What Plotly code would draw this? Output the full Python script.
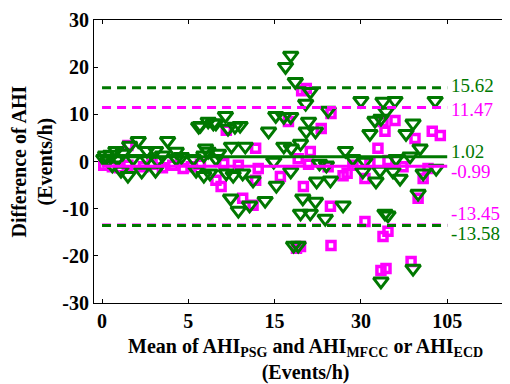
import numpy as np
import plotly.graph_objects as go

# mean of AHI (Events/h) and difference of AHI
psg_ecd_mean = [0.2, 0.8, 1.6, 2.1, 2.6, 3.1, 3.8, 4.3, 4.6, 0.6, 1.1, 1.5, 2.3, 3.1, 2.6, 4.3,
                0.1, 0.35, 0.5, 0.9, 1.2, 1.8, 3.2, 3.5,
                5.6, 6.8, 5.9, 6.8, 6.2, 6.4, 7.9, 9.3, 10.4, 11.0, 7.3, 8.2, 9.6, 7.0, 10.0, 11.6,
                8.2, 7.3, 8.5, 14.3, 14.9, 7.5, 9.4, 10.2, 11.3, 12.5, 9.9, 10.8, 12.1, 13.9,
                15.3, 17.8, 18.3, 16.6, 17.8, 15.2, 16.6, 17.9, 17.8, 16.9, 18.6, 21.2, 20.4, 24.3,
                30.0, 49.2, 20.9, 20.5, 22.1, 19.5, 37.8, 42.2, 47.4, 27.3, 33.5, 24.0, 46.6, 22.3,
                24.7, 19.9, 22.1, 19.5, 21.2, 23.8, 26.9, 43.1, 31.7, 19.1, 47.4, 50.9, 22.8, 28.6,
                59.6, 94.5, 51.8, 75.3, 69.2, 81.4, 60.5, 72.7, 57.9, 64.0, 84.1, 95.4, 79.7, 53.5, 75.3]
psg_ecd_diff = [1.3, 2.3, 3.4, 4.4, 2.3, 2.3, 4.4, 2.1, 1.0, -0.8, -1.9, -3.0, -2.1, -1.9, 0.6, 0.6,
                0.6, 0.2, 1.5, 0.6, 1.7, 0.6, 0.2, 1.3,
                0.6, 1.3, -1.9, -3.0, 7.4, 7.6, 8.1, 9.7, 7.4, 7.6, 8.5, 8.1, 7.0, 2.8, 3.2, 3.2,
                0.6, 2.1, 1.7, 6.4, 0.0, -2.5, -2.5, -3.0, -2.5, -4.0, -7.8, -10.4, -9.3, -8.3,
                -5.1, -2.1, -17.8, 9.5, 9.5, 9.7, 3.2, 2.8, 22.5, 20.1, 16.9, 14.8, 12.3, 10.8,
                12.9, 12.7, 8.5, 6.4, 6.4, 3.8, 5.9, 8.7, 9.1, 2.3, 0.0, -0.8, -1.9, -4.2,
                -4.0, -7.8, -8.5, -11.0, -11.0, -12.1, -9.3, -4.2, -2.1, -17.8, -25.4, -11.0, -0.4, 0.6,
                12.9, 12.9, 10.6, 8.1, 5.9, 2.8, 0.6, 1.1, -2.1, -3.6, -2.5, -1.5, -6.8, -11.4, -22.7]

psg_mfcc_mean = [0.1, 0.6, 1.0, 1.5, 1.5, 2.4, 2.9, 3.5, 4.1, 4.7, 5.35, 6.4, 9.4, 12.8, 17.4,
                 8.2, 8.8, 11.3, 12.5, 16.0, 12.8, 18.8, 20.5, 24.8, 23.1, 44.8, 50.9, 27.6, 21.2,
                 20.0, 24.7, 33.5, 24.8, 47.4, 49.2, 19.5, 26.9, 33.5, 59.6, 92.0, 99.0, 77.0,
                 53.5, 84.1, 79.7, 53.5, 73.6, 51.8, 20.9, 24.3, 28.6, 37.8, 66.6, 88.3, 19.1,
                 13.1, 10.8, 9.1, 19.7, 49.2]
psg_mfcc_diff = [-0.8, -1.1, -1.3, -0.8, 3.4, -1.1, -0.6, -1.3, -0.8, -1.5, -1.1, -0.6, 6.6, 2.8, 8.5,
                 -4.0, -5.3, -7.8, -9.3, -3.2, -4.0, -18.4, 15.5, 10.2, 7.0, 2.8, 6.4, -2.5, 2.1,
                 -5.3, -9.5, -12.7, -17.8, -23.1, -15.9, -18.0, -3.0, -3.6, 8.7, 6.4, 5.5, 4.9,
                 0.2, -3.6, -7.8, -14.8, -21.2, -22.7, -0.6, -1.1, -0.8, -0.4, -1.1, -1.5, 0.6,
                 -1.5, -0.8, -0.4, 15.0, 8.5]

# bias and limits of agreement
ecd_lines = [15.62, 1.02, -13.58]
mfcc_lines = [11.47, -0.99, -13.45]

tick_values = [0, 5, 15, 30, 105]
tick_labels = ['0', '5', '15', '30', '105']
y_ticks = [-30, -20, -10, 0, 10, 20, 30]
y_labels = ['-30', '-20', '-10', '0', '10', '20', '30']

GREEN = 'rgb(0,120,0)'
MAGENTA = 'rgb(255,0,255)'
FONT = 'Liberation Serif, DejaVu Serif, Times New Roman, serif'


def to_axis(x):
    # piecewise scale used on the x axis
    return np.interp(x, tick_values, np.arange(len(tick_values)))


fig = go.Figure()

fig.add_trace(go.Scatter(
    x=to_axis(psg_mfcc_mean), y=psg_mfcc_diff, mode='markers',
    marker=dict(symbol='square-open', size=8, color=MAGENTA, line=dict(width=3.5, color=MAGENTA)),
    showlegend=False
))
fig.add_trace(go.Scatter(
    x=to_axis(psg_ecd_mean), y=psg_ecd_diff, mode='markers',
    marker=dict(symbol='triangle-down-open', size=13, color=GREEN, line=dict(width=3, color=GREEN)),
    showlegend=False
))

x_end = [0, len(tick_values) - 1]
for lines, color in [(mfcc_lines, MAGENTA), (ecd_lines, GREEN)]:
    for i, val in enumerate(lines):
        fig.add_trace(go.Scatter(
            x=x_end, y=[val, val], mode='lines',
            line=dict(color=color, width=3, dash='solid' if i == 1 else '9px,6px'),
            showlegend=False, hoverinfo='skip'
        ))

# value labels at the right side
label_offsets = {15.62: 0.4, 11.47: -0.5, 1.02: 1.1, -0.99: -1.2, -13.45: 2.5, -13.58: -1.7}
for lines, color in [(ecd_lines, GREEN), (mfcc_lines, MAGENTA)]:
    for val in lines:
        fig.add_annotation(
            x=len(tick_values) - 1 + 0.02, y=val + label_offsets[val],
            text=f'{val:.2f}', showarrow=False, xanchor='left', yanchor='middle',
            font=dict(family=FONT, size=19, color=color)
        )

title_font = dict(family=FONT, size=20, color='black', weight='bold')
fig.add_annotation(
    xref='paper', yref='paper', x=0.5, y=0, yshift=-30, xanchor='center', yanchor='top',
    text='Mean of AHI<sub>PSG</sub> and AHI<sub>MFCC</sub> or AHI<sub>ECD</sub><br>(Events/h)',
    showarrow=False, font=title_font
)
fig.add_annotation(
    xref='paper', yref='paper', x=0, y=0.5, xshift=-62, xanchor='center', yanchor='middle',
    text='Difference of AHI<br>(Events/h)', textangle=-90, showarrow=False, font=title_font
)

axis_style = dict(
    showline=True, linecolor='black', linewidth=1, mirror='ticks',
    ticks='inside', ticklen=4, tickcolor='black', showgrid=False, zeroline=False,
    tickfont=dict(family=FONT, size=20, color='black', weight='bold')
)

fig.update_layout(
    width=510, height=384,
    margin=dict(l=86, r=2, t=12, b=89),
    plot_bgcolor='white', paper_bgcolor='white',
    font=dict(family=FONT),
    xaxis=dict(range=[-0.093, 4.797], tickvals=list(range(len(tick_values))), ticktext=tick_labels,
               **axis_style),
    yaxis=dict(range=[-30, 30], tickvals=y_ticks, ticktext=y_labels, **axis_style),
)

fig.write_html('out.html')
